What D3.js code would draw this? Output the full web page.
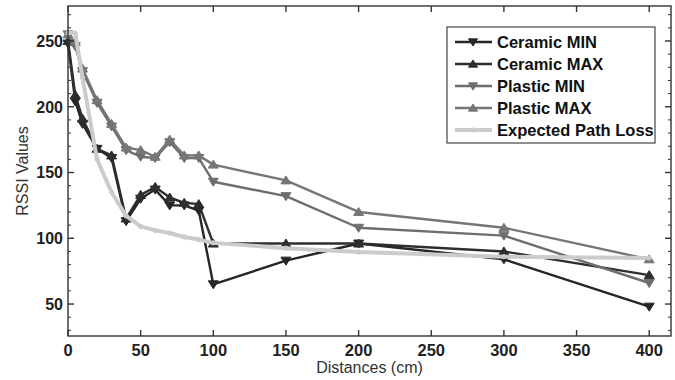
<!DOCTYPE html>
<html><head><meta charset="utf-8">
<script src="https://cdn.jsdelivr.net/npm/d3@7"></script>
<style>body{margin:0;background:#fff}svg{display:block}text{font-family:"Liberation Sans",Arial,Helvetica,sans-serif}</style>
</head><body><svg id="c" width="675" height="380"></svg>
<script>
const distances = [0, 5, 10, 20, 30, 40, 50, 60, 70, 80, 90, 100, 150, 200, 300, 400];
const ceramicMin = [248, 204, 187, 168, 161, 113, 130, 137, 125, 125, 121, 65, 83, 96, 84, 48];
const ceramicMax = [250, 209, 191, 168, 163, 115, 133, 139, 131, 127, 126, 96, 96, 96, 90, 72];
const plasticMin = [255, 246, 227, 203, 185, 167, 162, 161, 173, 161, 161, 143, 132, 108, 102, 66];
const plasticMax = [255, 249, 229, 205, 187, 169, 167, 162, 175, 163, 163, 156, 144, 120, 108, 84];
const expectedLoss = [256, 256, 222, 160, 135, 117, 109, 106, 104, 101, 99, 96.5, 92.5, 89.5, 86, 85];
const seriesNames = ["Ceramic MIN", "Ceramic MAX", "Plastic MIN", "Plastic MAX", "Expected Path Loss"];
const xTicks = [0, 50, 100, 150, 200, 250, 300, 350, 400];
const yTicks = [50, 100, 150, 200, 250];
const yMinorTicks = [30, 40, 60, 70, 80, 90, 110, 120, 130, 140, 160, 170, 180, 190, 210, 220, 230, 240, 260, 270];

const svg = d3.select("#c");
const L = 68, R = 671, T = 6, B = 336;
const x = d3.scaleLinear().domain([0, 415]).range([L, R]);
const y = d3.scaleLinear().domain([25.7, 276.6]).range([B, T]);

const series = [
  {name: seriesNames[0], vals: ceramicMin, color: "#262626", marker: "down", w: 2.4},
  {name: seriesNames[1], vals: ceramicMax, color: "#2e2e2e", marker: "up", w: 2.4},
  {name: seriesNames[2], vals: plasticMin, color: "#6e6e6e", marker: "down", w: 2.4},
  {name: seriesNames[3], vals: plasticMax, color: "#767676", marker: "up", w: 2.4},
  {name: seriesNames[4], vals: expectedLoss, color: "#cbcbcb", marker: "dot", w: 4}
];

function markerPath(type, s) {
  if (type === "down") return `M${-s},${-s*0.7}L${s},${-s*0.7}L0,${s*0.9}Z`;
  if (type === "up") return `M${-s},${s*0.7}L${s},${s*0.7}L0,${-s*0.9}Z`;
  return d3.symbol(d3.symbolCircle, 14)();
}

const line = d3.line().x(d => x(d[0])).y(d => y(d[1]));
series.forEach(s => {
  const pts = distances.map((d, i) => [d, s.vals[i]]);
  const g = svg.append("g");
  g.append("path").attr("d", line(pts)).attr("fill", "none").attr("stroke", s.color)
    .attr("stroke-width", s.w).attr("stroke-linejoin", "round");
  g.selectAll("path.m").data(pts).enter().append("path").attr("class", "m")
    .attr("transform", d => `translate(${x(d[0])},${y(d[1])})`)
    .attr("d", markerPath(s.marker, 5)).attr("fill", s.color).attr("stroke", s.color).attr("stroke-width", 1);
});

// frame
const ax = svg.append("g").attr("stroke", "#333").attr("stroke-width", 1.4);
ax.append("rect").attr("x", L).attr("y", T).attr("width", R - L).attr("height", B - T).attr("fill", "none");
xTicks.forEach(t => {
  ax.append("line").attr("x1", x(t)).attr("x2", x(t)).attr("y1", B).attr("y2", B - 6);
  ax.append("line").attr("x1", x(t)).attr("x2", x(t)).attr("y1", T).attr("y2", T + 6);
});
yTicks.forEach(t => {
  ax.append("line").attr("x1", L).attr("x2", L + 6).attr("y1", y(t)).attr("y2", y(t));
  ax.append("line").attr("x1", R).attr("x2", R - 6).attr("y1", y(t)).attr("y2", y(t));
});
yMinorTicks.forEach(t => {
  ax.append("line").attr("x1", L).attr("x2", L + 3).attr("y1", y(t)).attr("y2", y(t)).attr("stroke-width", 1);
  ax.append("line").attr("x1", R).attr("x2", R - 3).attr("y1", y(t)).attr("y2", y(t)).attr("stroke-width", 1);
});

// tick labels
svg.append("g").selectAll("text").data(xTicks).enter().append("text")
  .attr("x", d => x(d)).attr("y", 356).attr("text-anchor", "middle")
  .attr("font-size", 16.5).attr("font-weight", "bold").attr("fill", "#222").text(d => d);
svg.append("g").selectAll("text").data(yTicks).enter().append("text")
  .attr("x", 63).attr("y", d => y(d)).attr("dy", "0.36em").attr("text-anchor", "end")
  .attr("font-size", 16).attr("font-weight", "bold").attr("fill", "#222").text(d => d);

svg.append("text").attr("x", (L + R) / 2).attr("y", 373).attr("text-anchor", "middle")
  .attr("font-size", 16).attr("fill", "#333").text("Distances (cm)");
svg.append("text").attr("transform", "translate(28,171) rotate(-90)").attr("text-anchor", "middle")
  .attr("font-size", 16).attr("fill", "#333").text("RSSI Values");

// legend
const lg = svg.append("g");
lg.append("rect").attr("x", 447).attr("y", 27).attr("width", 208).attr("height", 116)
  .attr("fill", "#fff").attr("stroke", "#444").attr("stroke-width", 1.2);
series.forEach((s, i) => {
  const yy = 42 + i * 22;
  lg.append("line").attr("x1", 455).attr("x2", 492).attr("y1", yy).attr("y2", yy)
    .attr("stroke", s.color).attr("stroke-width", s.w);
  lg.append("path").attr("transform", `translate(473,${yy})`).attr("d", markerPath(s.marker, 4.5))
    .attr("fill", s.color).attr("stroke", s.color);
  lg.append("text").attr("x", 497).attr("y", yy).attr("dy", "0.36em")
    .attr("font-size", 16.5).attr("font-weight", "bold").attr("fill", "#111").text(s.name);
});
</script></body></html>
